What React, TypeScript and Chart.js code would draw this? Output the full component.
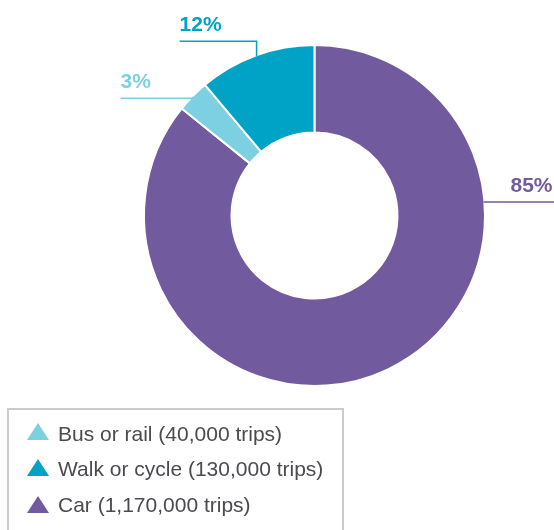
import React, { useEffect, useRef } from "react";
import Chart from "chart.js/auto";

// Data (drawn clockwise from the top: Car, Bus or rail, Walk or cycle)
const categories = ["Car", "Bus or rail", "Walk or cycle"];
const tripLabels = ["1,170,000", "40,000", "130,000"];
const shares = [85.8, 3.1, 11.1];
const percentLabels = ["85%", "3%", "12%"];
const colors = ["#725a9e", "#7dd0e2", "#00a3c6"];
const legendOrder = [1, 2, 0];

const FONT = "'Liberation Sans', Arial, Helvetica, sans-serif";

const labelPlugin = {
  id: "leaderLabels",
  afterDraw(chart: any) {
    const ctx = chart.ctx as CanvasRenderingContext2D;
    const arcs = chart.getDatasetMeta(0).data as any[];
    if (!arcs.length) return;
    const cx = arcs[0].x;
    const cy = arcs[0].y;
    const R = arcs[0].outerRadius;
    const mid = (arc: any, r: number) => {
      const a = (arc.startAngle + arc.endAngle) / 2;
      return { x: arc.x + Math.cos(a) * r, y: arc.y + Math.sin(a) * r };
    };
    ctx.save();
    ctx.lineWidth = 1.5;
    ctx.font = `bold 21px ${FONT}`;
    ctx.textBaseline = "alphabetic";

    // Walk or cycle (index 2)
    {
      const p = mid(arcs[2], R - 1);
      const ly = p.y - 15;
      const lx = p.x - 77;
      ctx.strokeStyle = colors[2];
      ctx.beginPath();
      ctx.moveTo(p.x, p.y);
      ctx.lineTo(p.x, ly);
      ctx.lineTo(lx, ly);
      ctx.stroke();
      ctx.fillStyle = colors[2];
      ctx.textAlign = "left";
      ctx.fillText(percentLabels[2], lx, ly - 10);
    }
    // Bus or rail (index 1)
    {
      const p = mid(arcs[1], R - 1);
      const ly = p.y + 1.5;
      const lx = p.x - 73;
      ctx.strokeStyle = colors[1];
      ctx.beginPath();
      ctx.moveTo(p.x, p.y);
      ctx.lineTo(p.x - 2, ly);
      ctx.lineTo(lx, ly);
      ctx.stroke();
      ctx.fillStyle = colors[1];
      ctx.textAlign = "left";
      ctx.fillText(percentLabels[1], lx, ly - 10.5);
    }
    // Car (index 0)
    {
      const dy = -13.5;
      const ly = cy + dy;
      const sx = cx + Math.sqrt(R * R - dy * dy) - 1;
      ctx.strokeStyle = colors[0];
      ctx.beginPath();
      ctx.moveTo(sx, ly);
      ctx.lineTo(chart.width, ly);
      ctx.stroke();
      ctx.fillStyle = colors[0];
      ctx.textAlign = "right";
      ctx.fillText(percentLabels[0], chart.width - 1.5, ly - 10);
    }
    ctx.restore();
  },
};

export default function App() {
  const ref = useRef<HTMLCanvasElement | null>(null);

  useEffect(() => {
    if (!ref.current) return;
    const chart = new Chart(ref.current, {
      type: "doughnut",
      data: {
        labels: categories,
        datasets: [
          {
            data: shares,
            backgroundColor: colors,
            borderColor: "#ffffff",
            borderWidth: 2,
          },
        ],
      },
      options: {
        responsive: false,
        maintainAspectRatio: false,
        animation: false,
        cutout: 83,
        layout: { padding: { left: 143, top: 44, right: 68, bottom: 143 } },
        plugins: {
          legend: { display: false },
          tooltip: { enabled: false },
        },
      },
      plugins: [labelPlugin],
    } as any);
    return () => chart.destroy();
  }, []);

  const rowTops = [422.4, 456.9, 492.7];
  const triTops = [423, 459, 495.5];

  return (
    <div style={{ position: "fixed", left: 0, top: 0, width: 554, height: 530, overflow: "hidden", background: "#fff" }}>
      <canvas ref={ref} width={554} height={530} style={{ position: "absolute", left: 0, top: 0 }} />
      <div
        style={{
          position: "absolute",
          left: 7,
          top: 408,
          width: 333,
          height: 140,
          border: "2px solid #cccccc",
        }}
      />
      {legendOrder.map((i, k) => (
        <React.Fragment key={categories[i]}>
          <div
            style={{
              position: "absolute",
              left: 27,
              top: triTops[k],
              width: 0,
              height: 0,
              borderLeft: "11.5px solid transparent",
              borderRight: "11.5px solid transparent",
              borderBottom: `17px solid ${colors[i]}`,
            }}
          />
          <div
            style={{
              position: "absolute",
              left: 58,
              top: rowTops[k],
              whiteSpace: "nowrap",
              fontFamily: FONT,
              fontSize: 21,
              lineHeight: "24px",
              color: "#4a4a50",
            }}
          >
            {`${categories[i]} (${tripLabels[i]} trips)`}
          </div>
        </React.Fragment>
      ))}
    </div>
  );
}
